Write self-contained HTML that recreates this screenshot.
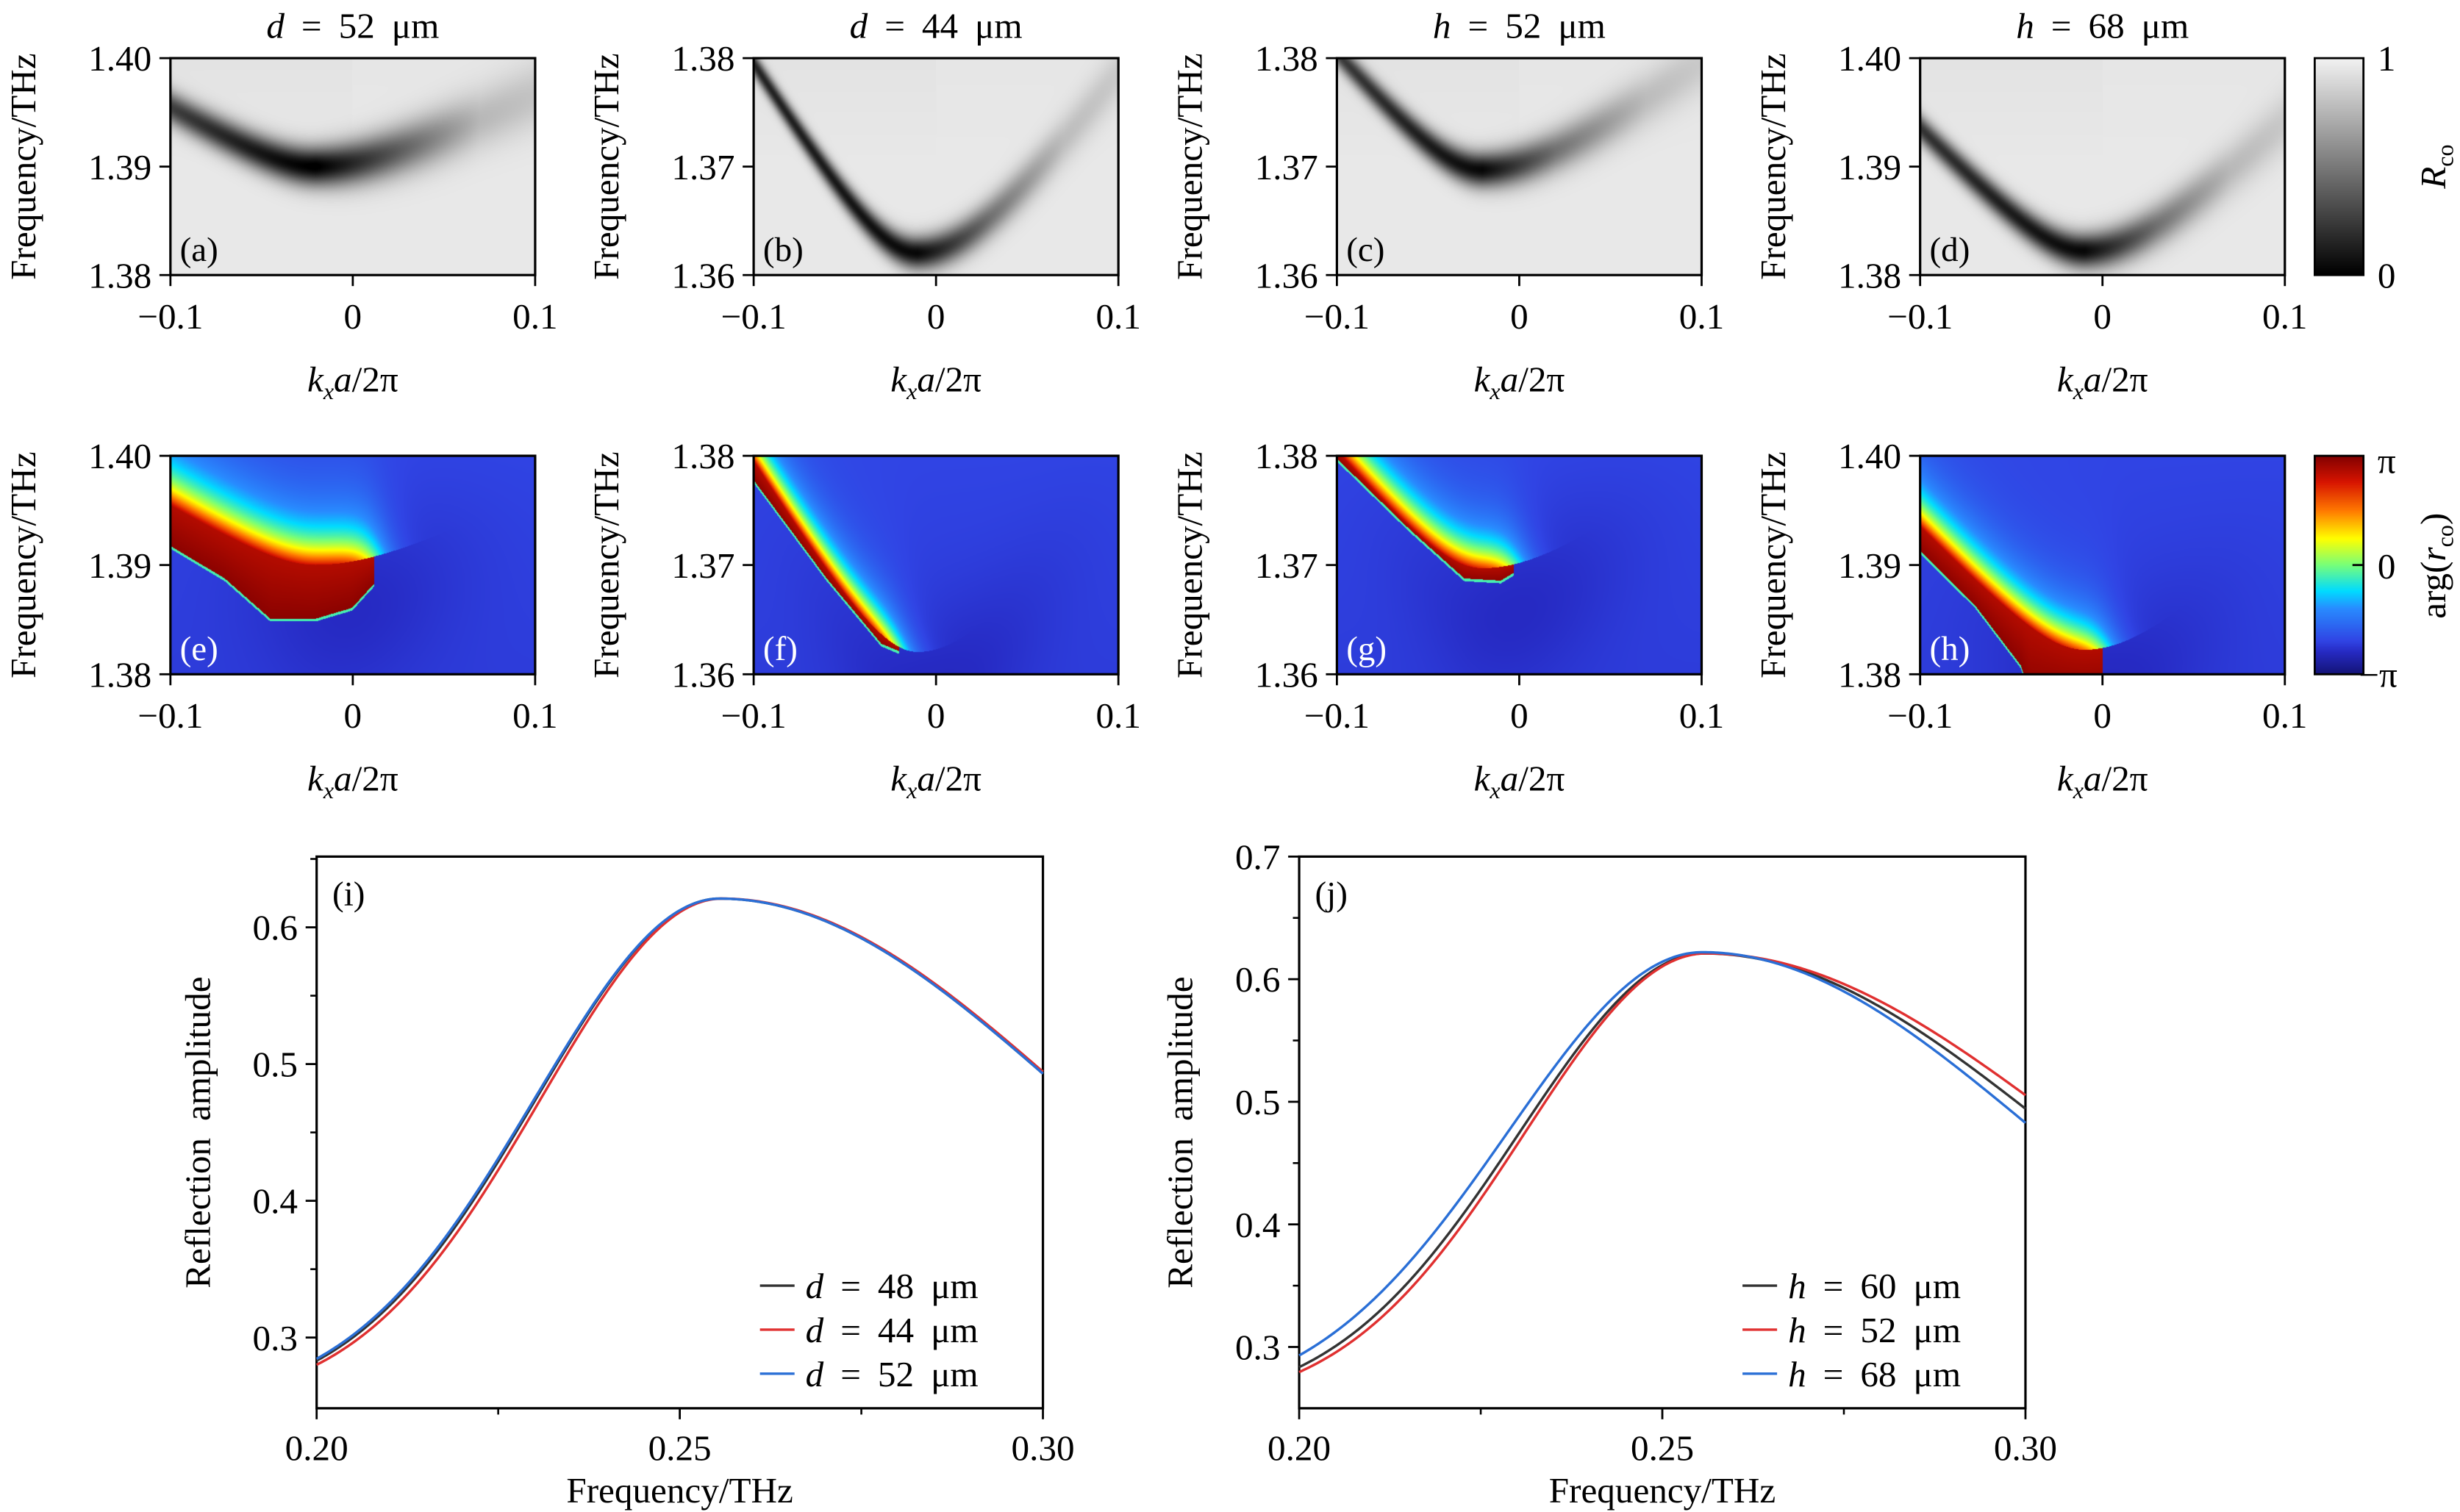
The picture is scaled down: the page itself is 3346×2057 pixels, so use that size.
<!DOCTYPE html>
<html><head><meta charset="utf-8">
<style>
html,body{margin:0;padding:0;background:#fff;}
#wrap{position:relative;width:3346px;height:2057px;overflow:hidden;background:#fff;}
canvas{position:absolute;}
svg{position:absolute;left:0;top:0;}
text{font-family:"Liberation Serif",serif;fill:#000;word-spacing:5px;}
</style></head><body>
<div id="wrap">
<svg id="sv" width="3346" height="2057" viewBox="0 0 1564 962" xmlns="http://www.w3.org/2000/svg"></svg>
</div>
<script>
const S=3346/1564;
const wrap=document.getElementById('wrap');
const sv=document.getElementById('sv');
const NS="http://www.w3.org/2000/svg";
const FS=23;
function el(tag,attrs,txt){const e=document.createElementNS(NS,tag);for(const k in attrs)e.setAttribute(k,attrs[k]);if(txt!==undefined)e.innerHTML=txt;sv.appendChild(e);return e;}
function lin(pts,k,idx){
  if(k<=pts[0][0])return pts[0][idx];
  for(let i=1;i<pts.length;i++){if(k<=pts[i][0]){const t=(k-pts[i-1][0])/(pts[i][0]-pts[i-1][0]);return pts[i-1][idx]+(pts[i][idx]-pts[i-1][idx])*t;}}
  return pts[pts.length-1][idx];
}
const cmap=[[0,[20,20,120]],[0.1,[38,42,195]],[0.15,[48,68,228]],[0.3,[40,140,255]],[0.38,[0,220,255]],[0.5,[120,255,120]],[0.62,[255,255,0]],[0.75,[255,120,0]],[0.88,[215,20,0]],[1,[130,0,0]]];
function cm(v){v=Math.max(0,Math.min(1,v));for(let i=1;i<cmap.length;i++){if(v<=cmap[i][0]){const a=cmap[i-1],b=cmap[i];const t=(v-a[0])/(b[0]-a[0]);return [0,1,2].map(j=>a[1][j]+(b[1][j]-a[1][j])*t);}}return cmap[cmap.length-1][1];}
function canvasAt(x,y,w,h,fn){
  const c=document.createElement('canvas');const W=Math.round(w*S),H=Math.round(h*S);
  c.width=W;c.height=H;c.style.left=(x*S)+'px';c.style.top=(y*S)+'px';
  const ctx=c.getContext('2d');const im=ctx.createImageData(W,H);
  for(let j=0;j<H;j++)for(let i=0;i<W;i++){const col=fn(i/(W-1),j/(H-1));const p=(j*W+i)*4;im.data[p]=col[0];im.data[p+1]=col[1];im.data[p+2]=col[2];im.data[p+3]=255;}
  ctx.putImageData(im,0,0);wrap.insertBefore(c,sv);
}
const cols=[108,479,850,1221];const PW=232;
function hyp(d,c){return Math.sqrt(d*d+c*c)-c;}
function mkFc(fmin,k0,fL,fR){const cL=0.03,cR=0.05;const aL=(fL-fmin)/hyp(-0.1-k0,cL),aR=(fR-fmin)/hyp(0.1-k0,cR);
  return k=>k<k0?fmin+aL*hyp(k-k0,cL):fmin+aR*hyp(k-k0,cR);}
const panels=[
 {f0:1.38,fc:mkFc(1.390,-0.02,1.3955,1.3965),D:[[-0.1,.7],[-0.02,1],[0.03,.55],[0.07,.2],[0.1,.15]],W:[[-0.1,.0015],[-0.02,.0018],[0.1,.003]],
  kend:0.012,fl:[[-0.1,1.3915],[-0.07,1.3885],[-0.045,1.3848],[-0.02,1.3848],[0,1.3858],[0.012,1.388]],s1:.003,t:['(a)','(e)'],yt:['1.40','1.39','1.38'],title:['d','52']},
 {f0:1.36,fc:mkFc(1.362,-0.01,1.3795,1.3785),D:[[-0.1,.8],[-0.01,.95],[0.03,.5],[0.07,.18],[0.1,.12]],W:[[-0.1,.0011],[-0.01,.0015],[0.1,.0026]],
  kend:-0.02,fl:[[-0.1,1.3775],[-0.06,1.3685],[-0.03,1.3625],[-0.02,1.3618]],s1:.0022,t:['(b)','(f)'],yt:['1.38','1.37','1.36'],title:['d','44']},
 {f0:1.36,fc:mkFc(1.3697,-0.02,1.3805,1.3795),D:[[-0.1,.7],[-0.02,.95],[0.02,.5],[0.07,.18],[0.1,.12]],W:[[-0.1,.0012],[-0.02,.0016],[0.1,.0027]],
  kend:-0.003,fl:[[-0.1,1.3795],[-0.06,1.373],[-0.03,1.3685],[-0.01,1.3683],[-0.003,1.369]],s1:.0025,t:['(c)','(g)'],yt:['1.38','1.37','1.36'],title:['h','52']},
 {f0:1.38,fc:mkFc(1.3822,-0.01,1.3935,1.394),D:[[-0.1,.75],[-0.01,.95],[0.03,.5],[0.07,.2],[0.1,.13]],W:[[-0.1,.0013],[-0.01,.0016],[0.1,.0027]],
  kend:0,fl:[[-0.1,1.391],[-0.07,1.386],[-0.045,1.3805],[-0.04,1.378]],s1:.0025,t:['(d)','(h)'],yt:['1.40','1.39','1.38'],title:['h','68']}
];
panels.forEach((P,n)=>{
  const x0=cols[n];
  canvasAt(x0,37,PW,138,(u,v)=>{const k=-0.1+0.2*u,f=P.f0+0.02*(1-v);
    const fc=P.fc(k),D=lin(P.D,k,1),w=lin(P.W,k,1);
    let r=0.91-0.04*Math.max(0,(1-v)-0.5)*(k<0?1:0.4);
    r-=D*0.93*Math.exp(-Math.pow((f-fc)/w,2));const c=Math.max(0,Math.round(r*255));return [c,c,c];});
  canvasAt(x0,290,PW,139,(u,v)=>{const k=-0.1+0.2*u,f=P.f0+0.02*(1-v);
    const fc=P.fc(k);const wt=1/(1+Math.exp((k-P.kend)/0.006));
    let base=0.15-0.04*Math.exp(-Math.pow(k/0.06,2)-Math.pow((f-fc+0.004)/0.008,2))-0.015*(v);
    let val=base;
    if(f>=fc){const d=f-fc;val=base+0.05*Math.exp(-d/0.006)*wt+wt*0.73*Math.exp(-d/P.s1);}
    else{const fl=lin(P.fl,k,1);
      if(k<=P.kend&&f>fl){val=0.93+0.06*Math.min(1,(fc-f)/Math.max(1e-4,fc-fl));
        if(f-fl<0.00025)val=0.45;}}
    return cm(val).map(Math.round);});
});
canvasAt(1472,37,31,138,(u,v)=>{const c=Math.round((1-v)*242);return [c,c,c];});
canvasAt(1472,290,31,139,(u,v)=>cm(1-v).map(Math.round));
function heatAxes(x0,y0,h,yt,lab,title,row){
  el('rect',{x:x0,y:y0,width:PW,height:h,fill:'none',stroke:'#000','stroke-width':1.5});
  [0,0.5,1].forEach((t,i)=>{const y=y0+h*t;el('line',{x1:x0-7,y1:y,x2:x0,y2:y,stroke:'#000','stroke-width':1.3});
    el('text',{x:x0-12,y:y+8,'font-size':FS,'text-anchor':'end'},yt[i]);});
  [['−0.1',0],['0',0.5],['0.1',1]].forEach(([s,t])=>{const x=x0+PW*t;el('line',{x1:x,y1:y0+h,x2:x,y2:y0+h+7,stroke:'#000','stroke-width':1.3});
    el('text',{x:x,y:y0+h+34,'font-size':FS,'text-anchor':'middle'},s);});
  el('text',{x:x0+PW/2,y:y0+h+74,'font-size':FS,'text-anchor':'middle'},'<tspan font-style="italic">k</tspan><tspan font-style="italic" font-size="15" dy="5">x</tspan><tspan font-style="italic" dy="-5">a</tspan>/2π');
  el('text',{x:0,y:0,'font-size':FS,'text-anchor':'middle',transform:`translate(${x0-86},${y0+h/2}) rotate(-90)`},'Frequency/THz');
  el('text',{x:x0+6,y:y0+h-9,'font-size':22,style:row?'fill:#fff':''},lab);
  if(title)el('text',{x:x0+PW/2,y:24,'font-size':FS,'text-anchor':'middle'},`<tspan font-style="italic">${title[0]}</tspan> = ${title[1]} μm`);
}
panels.forEach((P,n)=>{heatAxes(cols[n],37,138,P.yt,P.t[0],P.title,0);heatAxes(cols[n],290,139,P.yt,P.t[1],null,1);});
el('rect',{x:1472,y:37,width:31,height:138,fill:'none',stroke:'#000','stroke-width':1.3});
el('rect',{x:1472,y:290,width:31,height:139,fill:'none',stroke:'#000','stroke-width':1.3});
el('text',{x:1512,y:45,'font-size':FS},'1');el('text',{x:1512,y:183,'font-size':FS},'0');
el('text',{x:1512,y:301,'font-size':FS},'π');el('text',{x:1512,y:368,'font-size':FS},'0');el('text',{x:1500,y:437,'font-size':FS},'−π');
el('line',{x1:1496,y1:359.5,x2:1503,y2:359.5,stroke:'#000','stroke-width':1.3});
el('text',{x:0,y:0,'font-size':FS,'text-anchor':'middle',transform:'translate(1555,106) rotate(-90)'},'<tspan font-style="italic">R</tspan><tspan font-size="15" dy="5">co</tspan>');
el('text',{x:0,y:0,'font-size':FS,'text-anchor':'middle',transform:'translate(1555,360) rotate(-90)'},'arg(<tspan font-style="italic">r</tspan><tspan font-size="15" dy="5">co</tspan><tspan dy="-5">)</tspan>');
function curve(f,b,A,f0,wl,wr){const w=f<f0?wl:wr;return b+A*Math.exp(-Math.pow((f-f0)/w,2));}
function linePlot(x0,x1,y0,y1,ymin,ymax,yt,series,lab,leg,lx){
  const X=f=>x0+(f-0.2)/0.1*(x1-x0),Y=r=>y1-(r-ymin)/(ymax-ymin)*(y1-y0);
  el('rect',{x:x0,y:y0,width:x1-x0,height:y1-y0,fill:'none',stroke:'#000','stroke-width':1.5});
  [[0.2,'0.20'],[0.25,'0.25'],[0.3,'0.30']].forEach(([f,s])=>{el('line',{x1:X(f),y1:y1,x2:X(f),y2:y1+7,stroke:'#000','stroke-width':1.3});el('text',{x:X(f),y:y1+33,'font-size':FS,'text-anchor':'middle'},s);});
  [0.225,0.275].forEach(f=>el('line',{x1:X(f),y1:y1,x2:X(f),y2:y1+4,stroke:'#000','stroke-width':1.2}));
  yt.forEach(v=>{el('line',{x1:x0-7,y1:Y(v),x2:x0,y2:Y(v),stroke:'#000','stroke-width':1.3});el('text',{x:x0-12,y:Y(v)+8,'font-size':FS,'text-anchor':'end'},v.toFixed(1));
    const m=v+0.05;if(m<ymax)el('line',{x1:x0-4,y1:Y(m),x2:x0,y2:Y(m),stroke:'#000','stroke-width':1.2});});
  el('text',{x:(x0+x1)/2,y:y1+60,'font-size':FS,'text-anchor':'middle'},'Frequency/THz');
  el('text',{x:0,y:0,'font-size':FS,'text-anchor':'middle',transform:`translate(${x0-68},${(y0+y1)/2}) rotate(-90)`},'Reflection amplitude');
  el('text',{x:x0+10,y:y0+31,'font-size':22},lab);
  series.forEach(s=>{let d='';for(let i=0;i<=300;i++){const f=0.2+0.1*i/300;d+=(i?'L':'M')+X(f).toFixed(2)+','+Y(s.fn(f)).toFixed(2);}
    el('path',{d:d,fill:'none',stroke:s.c,'stroke-width':1.6});});
  series.forEach((s,i)=>{const y=818+28*i;el('line',{x1:lx,y1:y,x2:lx+22,y2:y,stroke:s.c,'stroke-width':1.6});
    el('text',{x:lx+29,y:y+8,'font-size':FS},`<tspan font-style="italic">${leg[0]}</tspan> = ${s.l} μm`);});
}
linePlot(201,663,545,896,0.3-45/870,0.6+45/870,[0.3,0.4,0.5,0.6],[
 {c:'#333',l:'48',fn:f=>curve(f,0.25,0.371,0.2555,0.0357,0.0684)},
 {c:'#e03030',l:'44',fn:f=>curve(f,0.25,0.371,0.2558,0.0352,0.0684)},
 {c:'#2a6fd6',l:'52',fn:f=>curve(f,0.25,0.371,0.2555,0.0360,0.0684)}],'(i)',['d'],483);
linePlot(826,1288,545,896,0.25,0.7,[0.3,0.4,0.5,0.6,0.7],[
 {c:'#333',l:'60',fn:f=>curve(f,0.25,0.371,0.2558,0.0360,0.0684)},
 {c:'#e03030',l:'52',fn:f=>curve(f,0.25,0.371,0.2560,0.0352,0.0720)},
 {c:'#2a6fd6',l:'68',fn:f=>curve(f,0.25,0.372,0.2555,0.0378,0.0650)}],'(j)',['h'],1108);
</script>
</body></html>
